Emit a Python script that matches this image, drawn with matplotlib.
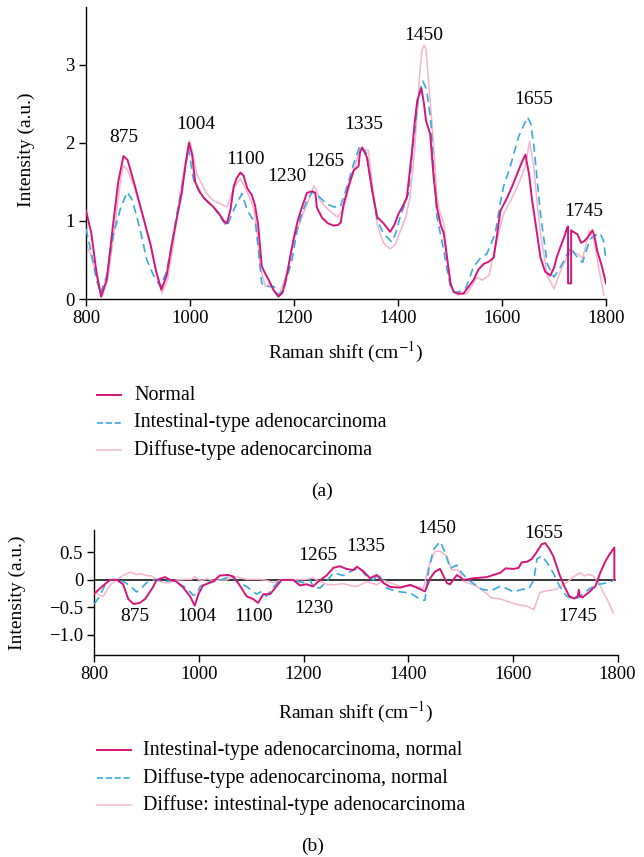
import matplotlib
matplotlib.use("Agg")
import matplotlib.pyplot as plt
from matplotlib.lines import Line2D

plt.rcParams['font.family'] = ['Liberation Serif', 'DejaVu Serif']
plt.rcParams['mathtext.fontset'] = 'stix'

MAG = '#d6157a'
BLUE = '#39a9dd'
PINK = '#f4b5cc'

# ---------------- panel (a) data ----------------
normal_x = [800, 810, 820, 829, 840, 852, 862, 872, 880, 892, 904, 914, 924, 935, 945, 955, 965, 975, 984, 992,
            998, 1004, 1010, 1018, 1026, 1035, 1045, 1055, 1065, 1071, 1078, 1084, 1090, 1097, 1103, 1110, 1119,
            1125, 1131, 1138, 1145, 1151, 1160, 1170, 1178, 1187, 1193, 1199, 1207, 1215, 1225, 1235, 1241, 1244,
            1254, 1265, 1276, 1285, 1290, 1295, 1305, 1315, 1324, 1327, 1331, 1340, 1350, 1360, 1372, 1385, 1393,
            1401, 1410, 1417, 1422, 1427, 1432, 1437, 1445, 1450, 1454, 1462, 1468, 1475, 1482, 1488, 1495, 1501,
            1507, 1516, 1526, 1535, 1545, 1555, 1565, 1575, 1584, 1590, 1597, 1610, 1620, 1629, 1638, 1645, 1652,
            1658, 1666, 1674, 1683, 1693, 1700, 1706, 1712, 1720, 1725, 1727, 1727, 1733, 1733, 1737, 1745, 1752,
            1758, 1765, 1774, 1778, 1783, 1792, 1800]
normal_y = [1.13, 0.85, 0.35, 0.03, 0.25, 0.95, 1.5, 1.83, 1.78, 1.5, 1.2, 0.95, 0.7, 0.35, 0.12, 0.3, 0.7, 1.05,
            1.35, 1.75, 2.0, 1.85, 1.5, 1.38, 1.3, 1.24, 1.18, 1.1, 1.0, 0.97, 1.15, 1.44, 1.55, 1.62, 1.58, 1.42,
            1.33, 1.2, 0.95, 0.42, 0.32, 0.25, 0.12, 0.03, 0.08, 0.33, 0.55, 0.76, 1.0, 1.17, 1.36, 1.38, 1.36,
            1.17, 1.04, 0.97, 0.94, 0.95, 0.98, 1.2, 1.45, 1.65, 1.7, 1.88, 1.94, 1.82, 1.4, 1.05, 0.97, 0.86, 0.95,
            1.09, 1.2, 1.3, 1.6, 1.9, 2.25, 2.54, 2.70, 2.5, 2.28, 2.11, 1.6, 1.17, 0.95, 0.84, 0.5, 0.2, 0.09,
            0.07, 0.07, 0.15, 0.24, 0.38, 0.45, 0.48, 0.53, 0.8, 1.13, 1.3, 1.45, 1.6, 1.75, 1.85, 1.6, 1.26, 0.9,
            0.53, 0.35, 0.3, 0.4, 0.55, 0.66, 0.8, 0.91, 0.93, 0.2, 0.2, 0.88, 0.86, 0.83, 0.72, 0.74, 0.79, 0.88,
            0.8, 0.62, 0.42, 0.2]

intest_x = [800, 810, 820, 828, 840, 853, 866, 879, 888, 898, 907, 917, 930, 943, 955, 965, 975, 988, 997, 1007,
            1020, 1032, 1045, 1058, 1071, 1084, 1092, 1100, 1110, 1118, 1126, 1132, 1138, 1145, 1161, 1170, 1180,
            1187, 1196, 1206, 1215, 1225, 1235, 1250, 1262, 1276, 1289, 1302, 1315, 1327, 1340, 1350, 1360, 1372,
            1388, 1396, 1404, 1420, 1430, 1440, 1448, 1455, 1463, 1469, 1475, 1488, 1495, 1501, 1510, 1520, 1530,
            1545, 1558, 1571, 1587, 1596, 1603, 1616, 1632, 1649, 1655, 1661, 1668, 1674, 1687, 1700, 1710, 1719,
            1732, 1745, 1755, 1762, 1770, 1780, 1789, 1795, 1800]
intest_y = [0.9, 0.6, 0.25, 0.07, 0.3, 0.84, 1.15, 1.37, 1.28, 1.05, 0.8, 0.5, 0.3, 0.16, 0.35, 0.7, 1.1, 1.56,
            1.93, 1.52, 1.35, 1.26, 1.18, 1.05, 0.93, 1.14, 1.25, 1.35, 1.14, 1.05, 0.97, 0.6, 0.2, 0.16, 0.16,
            0.05, 0.12, 0.28, 0.5, 0.88, 1.1, 1.26, 1.37, 1.3, 1.22, 1.18, 1.18, 1.44, 1.74, 1.97, 1.86, 1.4, 1.01,
            0.84, 0.73, 0.85, 1.05, 1.35, 2.03, 2.63, 2.79, 2.68, 2.28, 1.6, 1.05, 0.62, 0.35, 0.16, 0.08, 0.1,
            0.13, 0.41, 0.52, 0.58, 0.84, 1.2, 1.44, 1.7, 2.08, 2.33, 2.25, 1.98, 1.5, 1.09, 0.45, 0.28, 0.38,
            0.49, 0.66, 0.53, 0.47, 0.62, 0.77, 0.82, 0.84, 0.75, 0.5]

diffuse_x = [800, 810, 820, 831, 842, 855, 865, 872, 880, 892, 904, 914, 924, 935, 946, 957, 968, 981, 990, 999,
             1006, 1013, 1022, 1032, 1045, 1058, 1071, 1084, 1097, 1110, 1122, 1130, 1135, 1145, 1155, 1163, 1170,
             1185, 1199, 1210, 1218, 1230, 1238, 1244, 1250, 1265, 1283, 1295, 1305, 1315, 1327, 1343, 1352, 1360,
             1372, 1385, 1395, 1404, 1415, 1423, 1432, 1437, 1442, 1446, 1450, 1454, 1457, 1461, 1465, 1470, 1475,
             1481, 1488, 1495, 1501, 1507, 1514, 1533, 1545, 1552, 1562, 1570, 1575, 1584, 1594, 1603, 1616, 1629,
             1645, 1653, 1661, 1668, 1674, 1687, 1700, 1712, 1722, 1732, 1745, 1755, 1768, 1777, 1786, 1796]
diffuse_y = [0.71, 0.55, 0.3, 0.03, 0.25, 0.9, 1.45, 1.71, 1.65, 1.45, 1.18, 0.95, 0.7, 0.35, 0.07, 0.25, 0.7,
             1.35, 1.7, 2.03, 1.85, 1.6, 1.48, 1.35, 1.26, 1.22, 1.18, 1.42, 1.54, 1.37, 1.18, 0.8, 0.41, 0.16, 0.2,
             0.1, 0.03, 0.3, 0.75, 0.95, 1.1, 1.3, 1.45, 1.38, 1.26, 1.15, 1.05, 1.15, 1.4, 1.65, 1.93, 1.9, 1.4,
             0.95, 0.72, 0.64, 0.7, 0.86, 1.05, 1.3, 1.9, 2.4, 2.9, 3.18, 3.25, 3.2, 2.93, 2.6, 2.28, 1.8, 1.3, 1.1,
             0.97, 0.5, 0.2, 0.1, 0.05, 0.07, 0.2, 0.28, 0.24, 0.28, 0.3, 0.58, 0.85, 1.09, 1.25, 1.43, 1.7, 2.02,
             1.7, 1.2, 0.85, 0.3, 0.13, 0.35, 0.5, 0.6, 0.58, 0.52, 0.88, 0.75, 0.4, 0.05]

labels_a = ['875', '1004', '1100', '1230', '1265', '1335', '1450', '1655', '1745']
labels_a_x = [872, 1012, 1106, 1187, 1260, 1335, 1449, 1660, 1757]
labels_a_y = [2.07, 2.23, 1.79, 1.57, 1.76, 2.23, 3.37, 2.56, 1.12]

# ---------------- panel (b) data ----------------
int_norm_x = [800, 815, 830, 843, 855, 865, 875, 887, 897, 906, 913, 919, 935, 945, 957, 970, 983, 992, 999, 1008,
              1027, 1040, 1056, 1066, 1078, 1091, 1104, 1113, 1123, 1136, 1148, 1158, 1180, 1193, 1206, 1218, 1228,
              1244, 1257, 1269, 1282, 1295, 1302, 1315, 1327, 1340, 1353, 1366, 1385, 1404, 1423, 1432, 1442, 1451,
              1461, 1474, 1480, 1493, 1506, 1525, 1550, 1576, 1586, 1602, 1611, 1617, 1627, 1636, 1645, 1655, 1662,
              1670, 1677, 1689, 1698, 1708, 1717, 1724, 1726, 1728, 1733, 1745, 1758, 1767, 1776, 1783, 1794, 1794]
int_norm_y = [-0.25, -0.12, 0.0, 0.0, -0.08, -0.35, -0.44, -0.42, -0.35, -0.22, -0.12, 0.0, 0.05, 0.0, -0.03,
              -0.14, -0.3, -0.47, -0.26, -0.1, -0.03, 0.08, 0.09, 0.06, -0.1, -0.3, -0.35, -0.42, -0.26, -0.26,
              -0.12, 0.0, 0.0, -0.1, -0.08, -0.12, -0.03, 0.08, 0.22, 0.25, 0.2, 0.18, 0.24, 0.15, 0.03, 0.09, -0.06,
              -0.13, -0.14, -0.09, -0.17, -0.21, 0.03, 0.15, 0.2, -0.06, -0.08, 0.09, 0.0, 0.03, 0.05, 0.13, 0.21,
              0.2, 0.22, 0.32, 0.33, 0.38, 0.5, 0.65, 0.67, 0.56, 0.44, 0.1, -0.11, -0.3, -0.34, -0.3, -0.18, -0.3,
              -0.32, -0.23, -0.11, 0.13, 0.32, 0.44, 0.59, 0.0]

dif_norm_x = [800, 810, 820, 830, 843, 855, 868, 881, 890, 900, 916, 929, 951, 964, 976, 989, 996, 1002, 1015, 1040,
              1053, 1062, 1072, 1091, 1110, 1120, 1129, 1139, 1155, 1180, 1199, 1212, 1218, 1231, 1244, 1257, 1276,
              1295, 1308, 1321, 1334, 1343, 1359, 1378, 1404, 1426, 1432, 1439, 1448, 1461, 1471, 1480, 1493, 1502,
              1515, 1540, 1558, 1577, 1602, 1618, 1630, 1640, 1646, 1655, 1665, 1677, 1689, 1702, 1714, 1726, 1745,
              1764, 1783, 1794]
dif_norm_y = [-0.44, -0.3, -0.1, 0.0, 0.01, -0.03, -0.1, -0.22, -0.15, -0.05, 0.01, -0.03, -0.01, -0.08, -0.15,
              -0.28, -0.26, -0.12, -0.05, -0.01, 0.04, 0.07, -0.03, -0.12, -0.26, -0.21, -0.3, -0.17, 0.0, 0.0,
              -0.05, 0.01, -0.12, -0.15, -0.03, 0.13, 0.08, 0.18, 0.21, 0.05, 0.0, 0.11, -0.15, -0.21, -0.24, -0.37,
              -0.37, 0.18, 0.55, 0.7, 0.49, 0.21, 0.27, 0.13, 0.0, -0.17, -0.2, -0.11, -0.22, -0.17, -0.17, 0.0,
              0.38, 0.44, 0.32, 0.13, -0.11, -0.29, -0.35, -0.32, -0.17, -0.08, -0.05, 0.0]

dif_int_x = [800, 810, 817, 830, 843, 855, 868, 881, 890, 900, 910, 919, 932, 945, 957, 976, 986, 992, 999, 1005,
             1015, 1027, 1053, 1066, 1078, 1091, 1117, 1129, 1142, 1155, 1168, 1206, 1218, 1231, 1244, 1257, 1276,
             1289, 1302, 1321, 1340, 1353, 1385, 1416, 1429, 1439, 1451, 1461, 1474, 1483, 1496, 1506, 1525, 1540,
             1558, 1577, 1592, 1608, 1627, 1640, 1652, 1664, 1683, 1702, 1714, 1723, 1730, 1736, 1745, 1754, 1764,
             1773, 1783, 1792]
dif_int_y = [-0.21, -0.28, -0.3, -0.1, 0.01, 0.08, 0.14, 0.1, 0.11, 0.08, 0.07, 0.0, -0.05, -0.05, 0.0, 0.01,
             0.01, 0.06, 0.01, -0.01, 0.02, -0.01, 0.0, 0.06, 0.04, 0.01, 0.01, -0.01, -0.05, -0.01, 0.0, 0.01,
             0.04, -0.03, -0.08, -0.09, -0.07, -0.1, -0.12, -0.03, -0.09, -0.01, -0.12, -0.12, -0.15, 0.24, 0.52,
             0.52, 0.43, 0.18, 0.18, -0.03, -0.09, -0.17, -0.32, -0.35, -0.4, -0.45, -0.48, -0.54, -0.23, -0.2,
             -0.17, -0.05, 0.04, 0.1, 0.13, 0.07, 0.1, 0.07, -0.05, -0.23, -0.41, -0.6]

labels_b = ['875', '1004', '1100', '1230', '1265', '1335', '1450', '1655', '1745']
labels_b_x = [878, 995, 1104, 1220, 1228, 1318, 1455, 1658, 1724]
labels_b_y = [-0.66, -0.66, -0.66, -0.52, 0.45, 0.6, 0.93, 0.85, -0.66]

# ---------------- figure ----------------
W, H = 644, 857
fig = plt.figure(figsize=(W / 100, H / 100), dpi=100)


def style_axes(ax):
    for s in ('top', 'right'):
        ax.spines[s].set_visible(False)
    for s in ('left', 'bottom'):
        ax.spines[s].set_linewidth(1.0)
    ax.tick_params(direction='out', length=5, width=1.0, labelsize=13.5, colors='black', pad=3)


# panel (a)
ax1 = fig.add_axes([86 / W, 1 - 299 / H, 520 / W, 292 / H])
style_axes(ax1)
ax1.plot(normal_x, normal_y, color=MAG, lw=1.4, label='Normal', zorder=4)
ax1.plot(intest_x, intest_y, color=BLUE, lw=1.2, ls=(0, (5, 3)), label='Intestinal-type adenocarcinoma', zorder=3)
ax1.plot(diffuse_x, diffuse_y, color=PINK, lw=1.1, label='Diffuse-type adenocarcinoma', zorder=2)
ax1.set_xlim(800, 1800)
ax1.set_ylim(0, 3.74)
ax1.set_xticks([800, 1000, 1200, 1400, 1600, 1800])
ax1.set_yticks([0, 1, 2, 3])
for t, x, y in zip(labels_a, labels_a_x, labels_a_y):
    ax1.text(x, y, t, ha='center', va='center', fontsize=14)
ax1.set_ylabel('Intensity (a.u.)', fontsize=14)
ax1.yaxis.set_label_coords(-0.098, 0.51)
fig.text(346 / W, 1 - 352 / H, 'Raman shift (cm$^{-1}$)', ha='center', va='center', fontsize=14)

# legend (a)
rows_a = [395, 423, 450]
for line, y in zip(ax1.get_lines(), rows_a):
    fig.add_artist(Line2D([97 / W, 121 / W], [1 - y / H, 1 - y / H], transform=fig.transFigure,
                          color=line.get_color(), lw=line.get_linewidth(), ls=line.get_linestyle()))
    fig.text(134 / W, 1 - y / H, line.get_label(), ha='left', va='center', fontsize=14.5)
fig.text(322 / W, 1 - 491 / H, '(a)', ha='center', va='center', fontsize=14)

# panel (b)
ax2 = fig.add_axes([94.3 / W, 1 - 655 / H, 523.2 / W, 125 / H])
style_axes(ax2)
ax2.axhline(0, xmin=0, xmax=0.995, color='black', lw=1.1, zorder=1)
ax2.plot(int_norm_x, int_norm_y, color=MAG, lw=1.4, label='Intestinal-type adenocarcinoma, normal', zorder=4)
ax2.plot(dif_norm_x, dif_norm_y, color=BLUE, lw=1.2, ls=(0, (5, 3)), label='Diffuse-type adenocarcinoma, normal', zorder=3)
ax2.plot(dif_int_x, dif_int_y, color=PINK, lw=1.1, label='Diffuse: intestinal-type adenocarcinoma', zorder=2)
ax2.set_xlim(800, 1800)
ax2.set_ylim(-1.37, 0.91)
ax2.set_xticks([800, 1000, 1200, 1400, 1600, 1800])
ax2.set_yticks([0.5, 0, -0.5, -1.0])
ax2.set_yticklabels(['0.5', '0', '\u22120.5', '\u22121.0'])
for t, x, y in zip(labels_b, labels_b_x, labels_b_y):
    ax2.text(x, y, t, ha='center', va='center', fontsize=14)
ax2.set_ylabel('Intensity (a.u.)', fontsize=14)
ax2.yaxis.set_label_coords(-0.13, 0.5)
fig.text(356 / W, 1 - 712 / H, 'Raman shift (cm$^{-1}$)', ha='center', va='center', fontsize=14)

# legend (b)
rows_b = [750, 778, 805]
for line, y in zip(ax2.get_lines()[1:], rows_b):
    fig.add_artist(Line2D([97 / W, 131 / W], [1 - y / H, 1 - y / H], transform=fig.transFigure,
                          color=line.get_color(), lw=line.get_linewidth(), ls=line.get_linestyle()))
    fig.text(143 / W, 1 - y / H, line.get_label(), ha='left', va='center', fontsize=14.5)
fig.text(313 / W, 1 - 846 / H, '(b)', ha='center', va='center', fontsize=14)

fig.savefig('out.png', dpi=100)
